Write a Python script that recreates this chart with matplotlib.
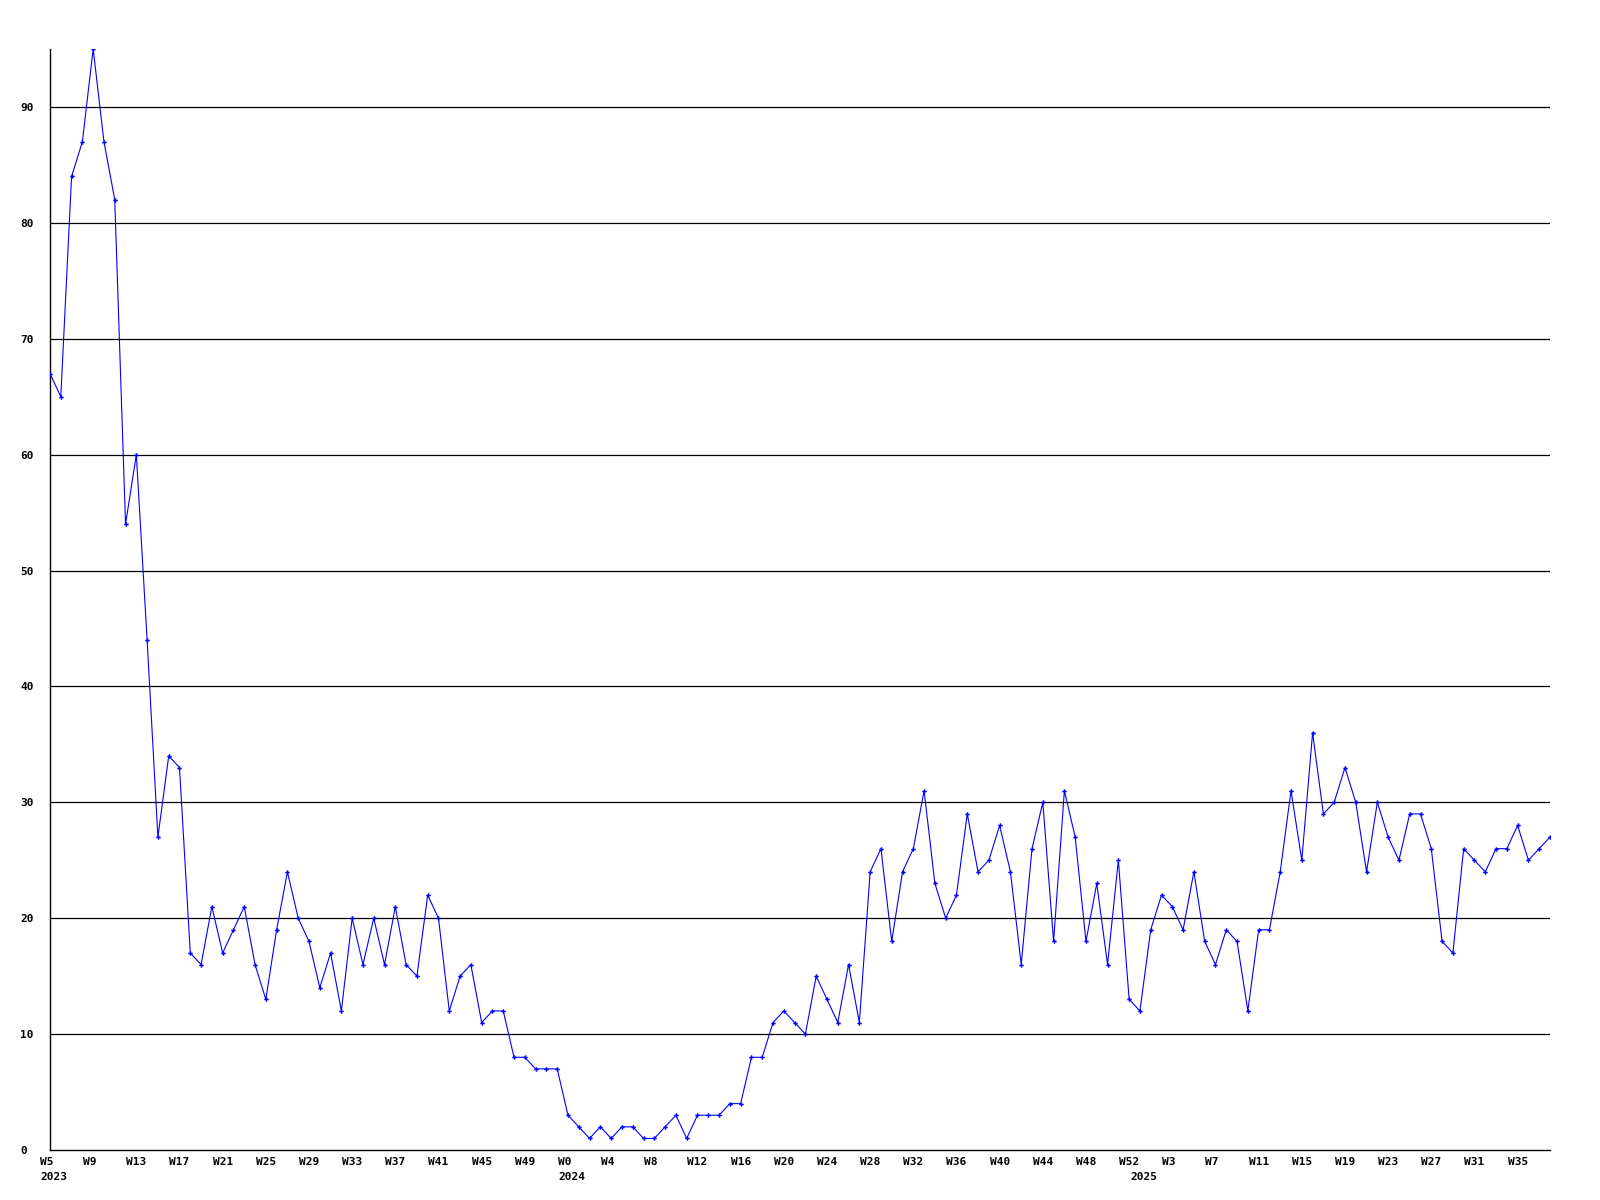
import matplotlib
matplotlib.use('Agg')
import matplotlib.pyplot as plt
import numpy as np

# weekly counts, one list per year
weeks_2023 = list(range(5, 53))
values_2023 = [67, 65, 84, 87, 95, 87, 82, 54, 60, 44, 27, 34, 33, 17, 16, 21,
               17, 19, 21, 16, 13, 19, 24, 20, 18, 14, 17, 12, 20, 16, 20, 16,
               21, 16, 15, 22, 20, 12, 15, 16, 11, 12, 12, 8, 8, 7, 7, 7]
weeks_2024 = list(range(0, 53))
values_2024 = [3, 2, 1, 2, 1, 2, 2, 1, 1, 2, 3, 1, 3, 3, 3, 4, 4, 8, 8, 11,
               12, 11, 10, 15, 13, 11, 16, 11, 24, 26, 18, 24, 26, 31, 23, 20,
               22, 29, 24, 25, 28, 24, 16, 26, 30, 18, 31, 27, 18, 23, 16, 25, 13]
weeks_2025 = list(range(0, 39))
values_2025 = [12, 19, 22, 21, 19, 24, 18, 16, 19, 18, 12, 19, 19, 24, 31, 25,
               36, 29, 30, 33, 30, 24, 30, 27, 25, 29, 29, 26, 18, 17, 26, 25,
               24, 26, 26, 28, 25, 26, 27]
years = ['2023', '2024', '2025']

weeks = weeks_2023 + weeks_2024 + weeks_2025
values = values_2023 + values_2024 + values_2025
x = np.arange(len(values))
year_starts = [0, len(weeks_2023), len(weeks_2023) + len(weeks_2024)]

fig = plt.figure(figsize=(16, 12), dpi=100)
W, H = 1600, 1200
ax = fig.add_axes([50 / W, 50 / H, 1500 / W, 1101 / H])

mono = {'family': 'DejaVu Sans Mono', 'weight': 'bold', 'size': 8}

for v in range(10, 100, 10):
    ax.axhline(v, color='black', lw=0.9, zorder=1)

ax.plot(x, values, color='#0000ff', lw=0.8, marker='P', markersize=3.2,
        markeredgewidth=0, zorder=3)

ax.set_xlim(0, len(values) - 1)
ax.set_ylim(0, 95)

for side in ['top', 'right']:
    ax.spines[side].set_visible(False)
for side in ['left', 'bottom']:
    ax.spines[side].set_color('black')
    ax.spines[side].set_linewidth(1.0)

ax.set_yticks(range(0, 100, 10))
ax.set_yticklabels([str(v) for v in range(0, 100, 10)], fontdict=mono)
for lbl in ax.get_yticklabels():
    lbl.set_horizontalalignment('left')
ax.tick_params(axis='y', length=0, pad=30 / (100 / 72))

# week labels: left-aligned, starting 10 px before their point
ax.set_xticks([])
for i in x[::4]:
    ax.annotate(f'W{weeks[i]}', xy=(i, 0), xycoords=('data', 'axes fraction'),
                xytext=(-10, -7), textcoords='offset pixels',
                ha='left', va='top', **mono)

for yr, i in zip(years, year_starts):
    ax.annotate(yr, xy=(i, 0), xycoords=('data', 'axes fraction'),
                xytext=(-10, -22), textcoords='offset pixels',
                ha='left', va='top', **mono)

fig.savefig('out.png', dpi=100, facecolor='white')
